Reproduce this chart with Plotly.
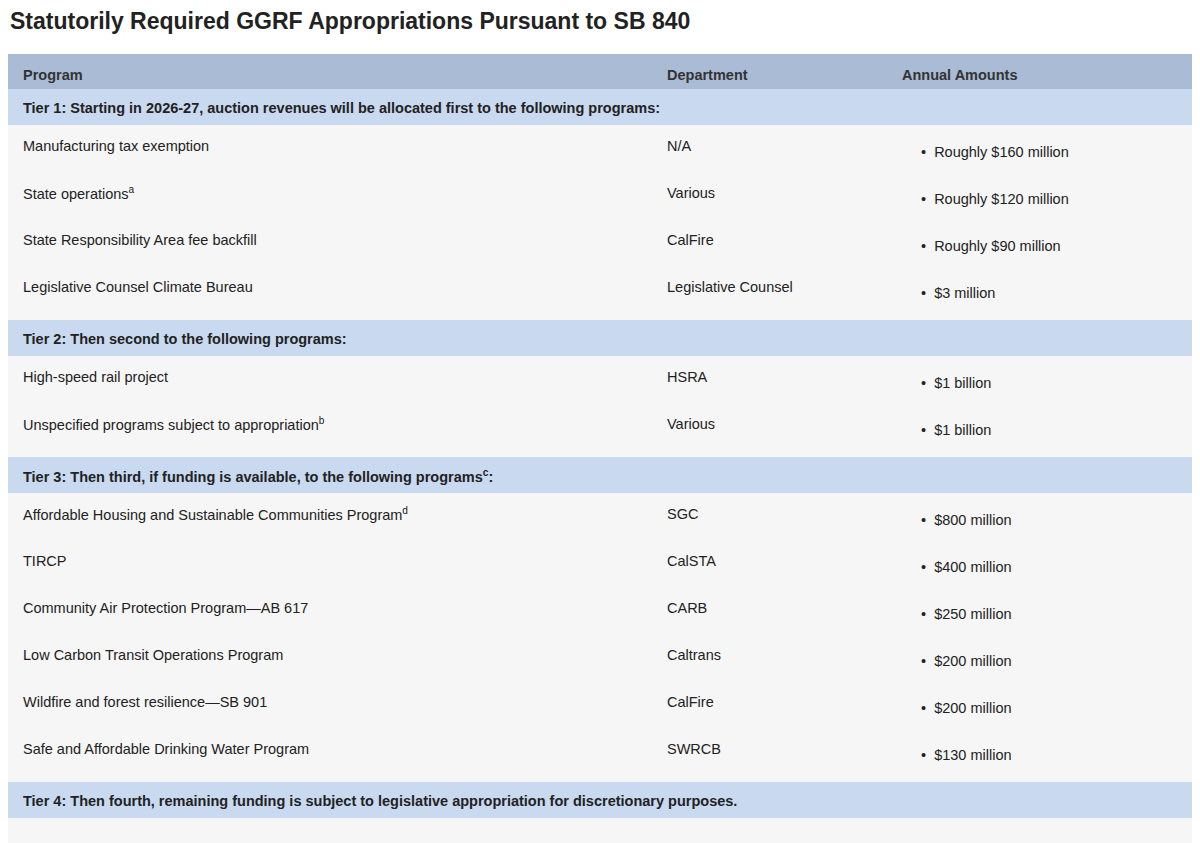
import plotly.graph_objects as go

title = "Statutorily Required GGRF Appropriations Pursuant to SB 840"
headers = ["Program", "Department", "Annual Amounts"]
tiers = [
    "Tier 1: Starting in 2026-27, auction revenues will be allocated first to the following programs:",
    "Tier 2: Then second to the following programs:",
    "Tier 3: Then third, if funding is available, to the following programs<sup>c</sup>:",
    "Tier 4: Then fourth, remaining funding is subject to legislative appropriation for discretionary purposes.",
]
programs = [
    ["Manufacturing tax exemption", "State operations<sup>a</sup>",
     "State Responsibility Area fee backfill", "Legislative Counsel Climate Bureau"],
    ["High-speed rail project", "Unspecified programs subject to appropriation<sup>b</sup>"],
    ["Affordable Housing and Sustainable Communities Program<sup>d</sup>", "TIRCP",
     "Community Air Protection Program\u2014AB 617", "Low Carbon Transit Operations Program",
     "Wildfire and forest resilience\u2014SB 901", "Safe and Affordable Drinking Water Program"],
    [],
]
departments = [
    ["N/A", "Various", "CalFire", "Legislative Counsel"],
    ["HSRA", "Various"],
    ["SGC", "CalSTA", "CARB", "Caltrans", "CalFire", "SWRCB"],
    [],
]
amounts = [
    ["Roughly $160 million", "Roughly $120 million", "Roughly $90 million", "$3 million"],
    ["$1 billion", "$1 billion"],
    ["$800 million", "$400 million", "$250 million", "$200 million", "$200 million", "$130 million"],
    [],
]

FONT = "Liberation Sans, Arial, sans-serif"
fig = go.Figure()
shapes, ann = [], []
L, R = 8, 1193
shapes.append(dict(type="rect", x0=L, x1=R, y0=54, y1=843, fillcolor="#f6f6f6", line_width=0, layer="below"))
shapes.append(dict(type="rect", x0=L, x1=R, y0=54, y1=89, fillcolor="#a9bbd5", line_width=0, layer="below"))
colx = [21, 665, 900]
for t, x in zip(headers, colx):
    ann.append(dict(x=x, y=75, text=f"<b>{t}</b>", xanchor="left", yanchor="middle", showarrow=False,
                    font=dict(size=14.5, color="#333", family=FONT)))
ann.append(dict(x=8, y=21, text=f"<b>{title}</b>", xanchor="left", yanchor="middle", showarrow=False,
                font=dict(size=23, color="#222", family=FONT)))

y = 89
for ti, tier in enumerate(tiers):
    shapes.append(dict(type="rect", x0=L, x1=R, y0=y, y1=y + 36, fillcolor="#c8d9f0", line_width=0, layer="below"))
    ann.append(dict(x=21, y=y + 19, text=f"<b>{tier}</b>", xanchor="left", yanchor="middle", showarrow=False,
                    font=dict(size=14.5, color="#222", family=FONT)))
    y += 36
    for p, d, a in zip(programs[ti], departments[ti], amounts[ti]):
        ty = y + 21
        ann.append(dict(x=21, y=ty, text=p, xanchor="left", yanchor="middle", showarrow=False,
                        font=dict(size=14.5, color="#222", family=FONT)))
        ann.append(dict(x=665, y=ty, text=d, xanchor="left", yanchor="middle", showarrow=False,
                        font=dict(size=14.5, color="#222", family=FONT)))
        ann.append(dict(x=919, y=ty + 6, text="\u2022  " + a, xanchor="left", yanchor="middle", showarrow=False,
                        font=dict(size=14.5, color="#222", family=FONT)))
        y += 47
    if programs[ti]:
        y += 7

fig.update_layout(
    width=1192, height=835, margin=dict(l=0, r=0, t=0, b=0),
    paper_bgcolor="white", plot_bgcolor="white",
    xaxis=dict(range=[8, 1200], visible=False, fixedrange=True),
    yaxis=dict(range=[843, 8], visible=False, fixedrange=True),
    shapes=shapes, annotations=ann, showlegend=False,
)
fig.write_html("out.html")
